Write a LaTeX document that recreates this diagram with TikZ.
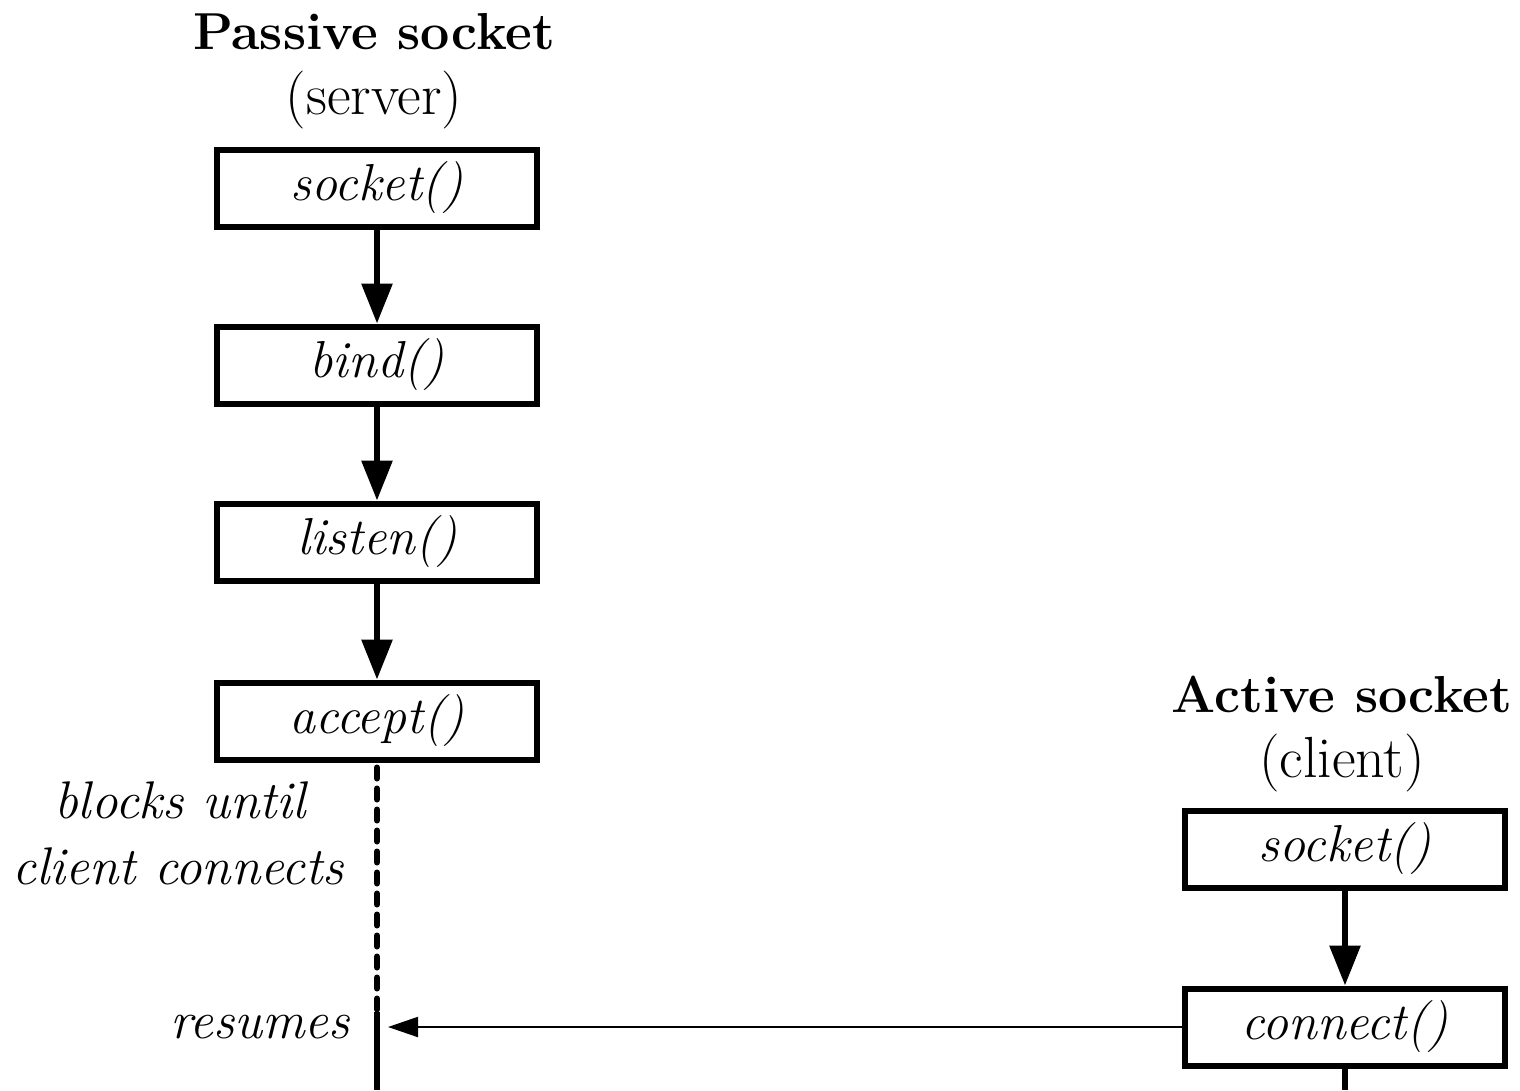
\documentclass[tikz,border=0pt]{standalone}
\usetikzlibrary{arrows.meta}
\begin{document}
\begin{tikzpicture}[x=1pt,y=-1pt,
  callbox/.style={draw, line width=6pt, minimum width=320pt, minimum height=77pt,
    inner sep=0pt, font=\fontsize{52}{56}\selectfont\itshape},
  heading/.style={font=\fontsize{52}{56}\selectfont\bfseries, inner sep=0pt},
  role/.style={font=\fontsize{58}{62}\selectfont, inner sep=0pt},
  note/.style={font=\fontsize{53}{56}\selectfont\itshape, inner sep=0pt},
  flow/.style={line width=6pt, -{Triangle[length=40pt,width=30pt]}},
  waitline/.style={line width=6pt, line cap=round, dash pattern=on 11pt off 10pt},
  runline/.style={line width=6pt},
  signal/.style={line width=2pt, -{Triangle[length=30pt,width=20pt]}}]
\useasboundingbox (0,0) rectangle (1520,1090);

% server side
\node[heading] (ptitle) at (374,32) {Passive socket};
\node[role] (prole) at (374,100) {(server)};
\node[callbox] (ssock) at (377,188) {socket()};
\node[callbox] (sbind) at (377,365) {bind()};
\node[callbox] (slist) at (377,542) {listen()};
\node[callbox] (sacc) at (377,721) {accept()};
\draw[flow] (ssock) -- (sbind);
\draw[flow] (sbind) -- (slist);
\draw[flow] (slist) -- (sacc);

\coordinate (wake) at (377,1012);
\coordinate (send) at (377,1090);
\draw[waitline] ([yshift=-5pt]sacc.south) -- (wake);
\draw[runline] (wake) -- (send);

\node[note] (blk1) at (180,800) {blocks until};
\node[note] (blk2) at (178,866) {client connects};
\node[note, anchor=east] (res) at (350,1027) {resumes};

% client side
\node[heading] (atitle) at (1342,694) {Active socket};
\node[role] (arole) at (1342,763) {(client)};
\node[callbox] (csock) at (1345,849) {socket()};
\node[callbox] (cconn) at (1345,1027) {connect()};
\draw[flow] (csock) -- (cconn);
\coordinate (cend) at (1345,1090);
\draw[runline] (cconn.south) -- (cend);

\coordinate (hit) at (388,1027);
\draw[signal] (cconn.west) -- (hit);
\end{tikzpicture}
\end{document}
